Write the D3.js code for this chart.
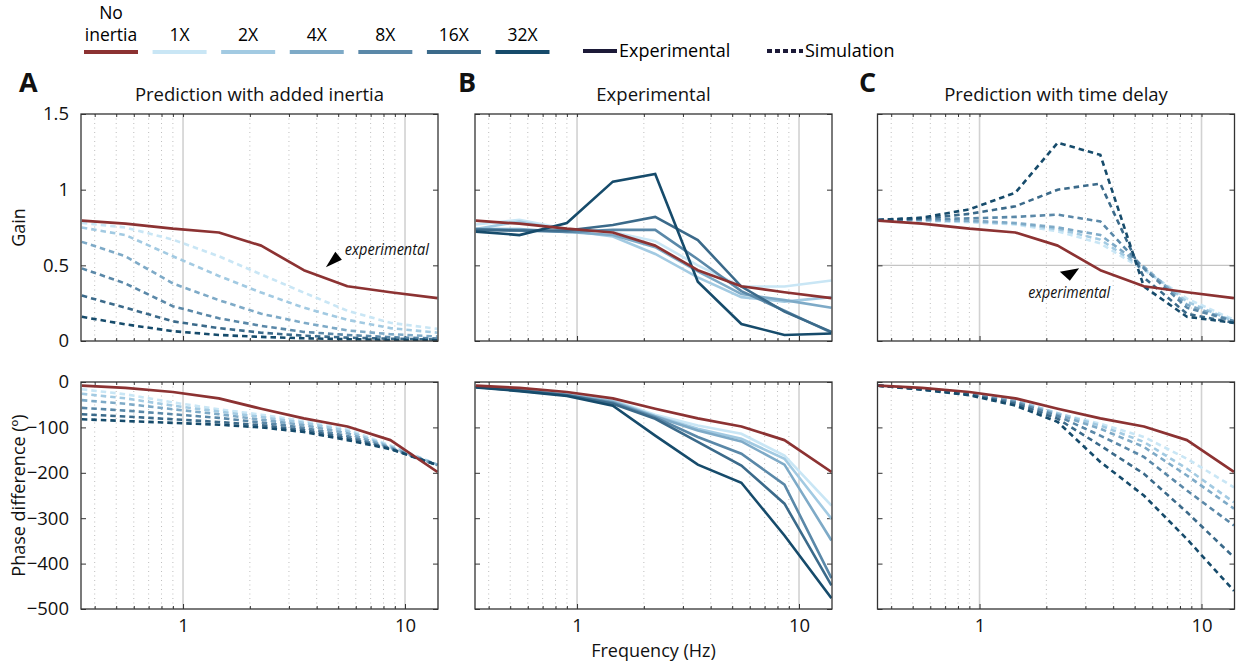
<!DOCTYPE html>
<html><head><meta charset="utf-8">
<script src="https://cdn.jsdelivr.net/npm/d3@7"></script>
<style>
body{margin:0;background:#fff;}
svg{display:block;font-family:"Open Sans",sans-serif;}
</style></head><body>
<svg id="chart" width="1236" height="663"></svg>
<script>
// ---------- data ----------
const freq = [0.35, 0.55, 0.9, 1.45, 2.25, 3.5, 5.5, 8.6, 14];
const seriesLabels = ["1X", "2X", "4X", "8X", "16X", "32X"];
const seriesColors = ["#c9e6f5", "#a2cae2", "#7eaac7", "#5a88a8", "#3b6a8a", "#164b6b"];
const noInertiaLabel = ["No", "inertia"];
const noInertiaColor = "#8c3232";

// experimental, no added inertia (same in every panel)
const expGain  = [0.795, 0.775, 0.742, 0.717, 0.63, 0.468, 0.362, 0.322, 0.283];
const expPhase = [-8, -13, -22, -36, -59, -80, -98, -128, -198];

// A: prediction with added inertia (simulation)
const inertiaSimGain = [
  [0.78, 0.75, 0.67, 0.56, 0.44, 0.32, 0.20, 0.12, 0.08],
  [0.75, 0.70, 0.56, 0.43, 0.32, 0.22, 0.14, 0.085, 0.055],
  [0.655, 0.56, 0.38, 0.27, 0.18, 0.12, 0.07, 0.045, 0.03],
  [0.48, 0.38, 0.23, 0.15, 0.10, 0.06, 0.04, 0.025, 0.017],
  [0.30, 0.22, 0.13, 0.085, 0.055, 0.035, 0.022, 0.015, 0.01],
  [0.16, 0.11, 0.065, 0.04, 0.027, 0.018, 0.012, 0.008, 0.005]
];
const inertiaSimPhase = [
  [-16, -27, -45, -60, -72, -86, -104, -140, -182],
  [-26, -36, -52, -65, -77, -90, -108, -142, -182],
  [-40, -48, -60, -71, -83, -95, -113, -144, -183],
  [-57, -63, -71, -79, -89, -101, -119, -146, -183],
  [-71, -76, -82, -88, -95, -106, -124, -147, -183],
  [-82, -86, -90, -94, -100, -110, -128, -148, -183]
];

// B: experimental with added inertia
const inertiaExpGain = [
  [0.77, 0.80, 0.74, 0.72, 0.66, 0.50, 0.36, 0.36, 0.40],
  [0.74, 0.79, 0.73, 0.69, 0.575, 0.42, 0.29, 0.26, 0.29],
  [0.74, 0.74, 0.72, 0.70, 0.62, 0.46, 0.31, 0.27, 0.22],
  [0.74, 0.73, 0.72, 0.734, 0.734, 0.54, 0.33, 0.20, 0.055],
  [0.734, 0.73, 0.73, 0.767, 0.82, 0.667, 0.36, 0.194, 0.06],
  [0.723, 0.70, 0.78, 1.053, 1.104, 0.392, 0.112, 0.04, 0.05]
];
const inertiaExpPhase = [
  [-9, -17, -27, -40, -72, -96, -114, -162, -272],
  [-10, -17, -27, -42, -75, -103, -125, -169, -301],
  [-10, -18, -28, -44, -76, -107, -131, -182, -349],
  [-11, -18, -29, -46, -78, -121, -158, -226, -432],
  [-11, -19, -29, -48, -81, -132, -184, -268, -448],
  [-12, -20, -31, -52, -118, -182, -222, -338, -476]
];

// C: prediction with time delay (simulation)
const delaySimGain = [
  [0.80, 0.795, 0.785, 0.77, 0.725, 0.645, 0.47, 0.28, 0.14],
  [0.80, 0.80, 0.79, 0.775, 0.74, 0.67, 0.48, 0.26, 0.13],
  [0.80, 0.80, 0.795, 0.78, 0.75, 0.70, 0.49, 0.24, 0.13],
  [0.80, 0.805, 0.81, 0.82, 0.835, 0.79, 0.48, 0.22, 0.13],
  [0.80, 0.81, 0.84, 0.89, 1.00, 1.04, 0.42, 0.18, 0.12],
  [0.80, 0.815, 0.87, 0.98, 1.31, 1.23, 0.36, 0.16, 0.12]
];
const delaySimPhase = [
  [-8, -15, -26, -40, -69, -92, -121, -169, -232],
  [-8, -15, -26, -41, -69, -96, -132, -191, -265],
  [-8, -15, -27, -43, -72, -103, -143, -206, -279],
  [-8, -16, -27, -45, -75, -118, -165, -239, -316],
  [-8, -16, -28, -48, -81, -140, -202, -287, -386],
  [-8, -17, -29, -52, -88, -176, -250, -346, -460]
];

const gainTicks = [0, 0.5, 1, 1.5];
const gainTickLabels = ["0", "0.5", "1", "1.5"];
const phaseTicks = [-500, -400, -300, -200, -100, 0];
const freqMajor = [1, 10];
const freqMinor = [0.4, 0.5, 0.6, 0.7, 0.8, 0.9, 2, 3, 4, 5, 6, 7, 8, 9];
const panelTitles = ["Prediction with added inertia", "Experimental", "Prediction with time delay"];
const panelLetters = ["A", "B", "C"];

// ---------- layout ----------
const svg = d3.select("#chart");
const colX = [81, 475, 877.5], W = 357;
const rows = [{ top: 114, bottom: 341 }, { top: 382, bottom: 609 }];
const xDomain = [0.347, 14.08];

const panels = [
  { c: 0, r: 0, sims: inertiaSimGain, dashed: true },
  { c: 1, r: 0, sims: inertiaExpGain, dashed: false },
  { c: 2, r: 0, sims: delaySimGain, dashed: true, hgrid: 0.5 },
  { c: 0, r: 1, sims: inertiaSimPhase, dashed: true },
  { c: 1, r: 1, sims: inertiaExpPhase, dashed: false },
  { c: 2, r: 1, sims: delaySimPhase, dashed: true }
];

panels.forEach((p, i) => {
  const x = d3.scaleLog().domain(xDomain).range([colX[p.c], colX[p.c] + W]);
  const row = rows[p.r];
  const y = p.r === 0
    ? d3.scaleLinear().domain([0, 1.5]).range([row.bottom, row.top])
    : d3.scaleLinear().domain([-500, 0]).range([row.bottom, row.top]);
  const H = row.bottom - row.top;
  const g = svg.append("g");
  const clipId = "clip" + i;
  svg.append("clipPath").attr("id", clipId).append("rect")
    .attr("x", colX[p.c]).attr("y", row.top).attr("width", W).attr("height", H);

  // grid: minor dotted
  g.append("g").selectAll("line").data(freqMinor).join("line")
    .attr("x1", d => x(d)).attr("x2", d => x(d))
    .attr("y1", row.top).attr("y2", row.bottom)
    .attr("stroke", "#bdbdbd").attr("stroke-width", 1).attr("stroke-dasharray", "1,3.5");
  g.append("g").selectAll("line").data(freqMajor).join("line")
    .attr("x1", d => x(d)).attr("x2", d => x(d))
    .attr("y1", row.top).attr("y2", row.bottom)
    .attr("stroke", "#d2d2d2").attr("stroke-width", 1.6);
  if (p.hgrid !== undefined) {
    g.append("line").attr("x1", colX[p.c]).attr("x2", colX[p.c] + W)
      .attr("y1", y(p.hgrid)).attr("y2", y(p.hgrid))
      .attr("stroke", "#c4c4c4").attr("stroke-width", 1.2);
  }

  // axes (ticks inward)
  const xb = d3.axisBottom(x).tickValues(freqMinor.concat(freqMajor)).tickSize(-3)
    .tickFormat(d => (p.r === 1 && freqMajor.includes(d)) ? d3.format("d")(d) : "").tickPadding(10);
  const xt = d3.axisTop(x).tickValues(freqMinor.concat(freqMajor)).tickSize(-3).tickFormat("");
  const yTicks = p.r === 0 ? gainTicks : phaseTicks;
  const yl = d3.axisLeft(y).tickValues(yTicks).tickSize(-5).tickPadding(12)
    .tickFormat(d => p.c === 0 ? (p.r === 0 ? gainTickLabels[gainTicks.indexOf(d)] : d3.format("d")(d)) : "");
  const yr = d3.axisRight(y).tickValues(yTicks).tickSize(-5).tickFormat("");

  const gx = g.append("g").attr("transform", `translate(0,${row.bottom})`).call(xb);
  g.append("g").attr("transform", `translate(0,${row.top})`).call(xt);
  g.append("g").attr("transform", `translate(${colX[p.c]},0)`).call(yl);
  g.append("g").attr("transform", `translate(${colX[p.c] + W},0)`).call(yr);
  g.selectAll(".domain").remove();
  g.selectAll(".tick line").attr("stroke", "#333").attr("stroke-width", 1);
  g.selectAll(".tick text").attr("font-family", "Open Sans").attr("font-size", 18.5).attr("fill", "#111");
  gx.selectAll(".tick").filter(d => freqMajor.includes(d)).select("line").attr("y2", -5);

  // data lines
  const line = d3.line().x((d, k) => x(freq[k])).y(d => y(d));
  const lg = g.append("g").attr("clip-path", `url(#${clipId})`);
  p.sims.forEach((s, k) => {
    lg.append("path").attr("d", line(s)).attr("fill", "none")
      .attr("stroke", seriesColors[k]).attr("stroke-width", 2.6)
      .attr("stroke-dasharray", p.dashed ? "5.5,4" : null);
  });
  lg.append("path").attr("d", line(p.r === 0 ? expGain : expPhase)).attr("fill", "none")
    .attr("stroke", noInertiaColor).attr("stroke-width", 2.7).attr("stroke-linejoin", "round");

  // box
  g.append("rect").attr("x", colX[p.c]).attr("y", row.top).attr("width", W).attr("height", H)
    .attr("fill", "none").attr("stroke", "#333").attr("stroke-width", 1.3);

  // annotations
  if (i === 0) {
    const tx = x(4.4), ty = y(0.488);
    g.append("path").attr("d", `M${tx},${ty}L${tx + 9.5},${ty - 15.5}L${tx + 16},${ty - 7.3}Z`).attr("fill", "#000");
    g.append("text").attr("x", tx + 19).attr("y", ty - 12).text("experimental")
      .attr("font-style", "italic").attr("font-size", 16).attr("fill", "#111")
      .attr("textLength", 84).attr("lengthAdjust", "spacingAndGlyphs");
  }
  if (i === 2) {
    const tx = x(2.81), ty = y(0.48);
    g.append("path").attr("d", `M${tx},${ty}L${tx - 19.3},${ty + 3.4}L${tx - 9.3},${ty + 12.4}Z`).attr("fill", "#000");
    g.append("text").attr("x", tx - 51).attr("y", ty + 30).text("experimental")
      .attr("font-style", "italic").attr("font-size", 16).attr("fill", "#111")
      .attr("textLength", 82).attr("lengthAdjust", "spacingAndGlyphs");
  }
});

// titles and letters
panelTitles.forEach((t, c) => {
  svg.append("text").attr("x", colX[c] + W / 2).attr("y", 101).attr("text-anchor", "middle")
    .attr("font-size", 18.5).attr("fill", "#111").text(t);
});
const letterX = [19, 458, 859];
panelLetters.forEach((t, c) => {
  svg.append("text").attr("x", letterX[c]).attr("y", 92).attr("font-size", 27)
    .attr("font-weight", "bold").attr("fill", "#111").text(t);
});

// axis labels
svg.append("text").attr("transform", `translate(25,${(rows[0].top + rows[0].bottom) / 2}) rotate(-90)`)
  .attr("text-anchor", "middle").attr("font-size", 18).attr("fill", "#111").text("Gain");
svg.append("text").attr("transform", `translate(25,${(rows[1].top + rows[1].bottom) / 2}) rotate(-90)`)
  .attr("text-anchor", "middle").attr("font-size", 18).attr("fill", "#111").text("Phase difference (º)");
svg.append("text").attr("x", colX[1] + W / 2).attr("y", 657).attr("text-anchor", "middle")
  .attr("font-size", 18).attr("fill", "#111").text("Frequency (Hz)");

// legend
const legX = d3.scaleLinear().domain([0, 6]).range([111, 522.5]);
const lg = svg.append("g");
const legItems = [{ label: null, color: noInertiaColor }].concat(seriesLabels.map((l, k) => ({ label: l, color: seriesColors[k] })));
legItems.forEach((it, k) => {
  const cx = legX(k);
  lg.append("line").attr("x1", cx - 27).attr("x2", cx + 27).attr("y1", 52).attr("y2", 52)
    .attr("stroke", it.color).attr("stroke-width", 4);
  if (k === 0) {
    lg.append("text").attr("x", cx).attr("y", 19).attr("text-anchor", "middle").attr("font-size", 17.5).text(noInertiaLabel[0]);
    lg.append("text").attr("x", cx).attr("y", 41).attr("text-anchor", "middle").attr("font-size", 17.5).text(noInertiaLabel[1]);
  } else {
    lg.append("text").attr("x", cx).attr("y", 41).attr("text-anchor", "middle").attr("font-size", 17.5).text(it.label);
  }
});
lg.append("line").attr("x1", 583).attr("x2", 617).attr("y1", 51).attr("y2", 51).attr("stroke", "#1c1a38").attr("stroke-width", 4);
lg.append("text").attr("x", 619).attr("y", 57).attr("font-size", 18).text("Experimental");
lg.append("line").attr("x1", 767).attr("x2", 803).attr("y1", 51).attr("y2", 51).attr("stroke", "#1c1a38")
  .attr("stroke-width", 4).attr("stroke-dasharray", "5,3");
lg.append("text").attr("x", 805).attr("y", 57).attr("font-size", 18).text("Simulation");
</script>
</body></html>
